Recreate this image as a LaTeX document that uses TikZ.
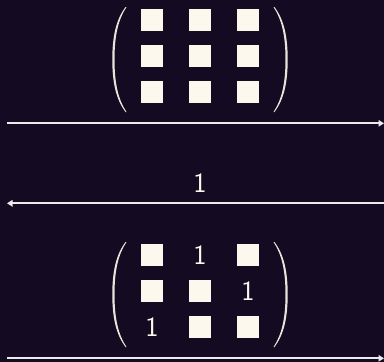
\documentclass[tikz,border=0pt]{standalone}
\usetikzlibrary{arrows.meta}

\definecolor{bgpurple}{HTML}{140A22}
\definecolor{cream}{HTML}{FCF8EE}
\definecolor{rulegray}{HTML}{ECEAEA}

\begin{document}
\begin{tikzpicture}[
  x=1pt,
  y=1pt,
  cell/.style={
    fill=cream,
    minimum size=22pt,
    inner sep=0pt,
    outer sep=0pt
  },
  entry/.style={
    text=cream,
    font=\sffamily\fontsize{28}{34}\selectfont,
    inner sep=0pt
  },
  arrowline/.style={
    draw=rulegray,
    line width=1.8pt,
    -{Triangle[length=5.5pt,width=6.5pt]}
  },
  parenfill/.style={
    fill=cream!92!black
  }
]

\fill[bgpurple] (0,0) rectangle (384,-362);
\useasboundingbox (0,0) rectangle (384,-362);

% one left paren, mirrored for the right one
\newcommand{\drawparen}{%
  \fill[parenfill] (14,0) .. controls (5,-12) and (0.8,-28) .. (0.8,-52.5)
    .. controls (0.8,-77) and (5,-93) .. (14,-105)
    -- (15,-105) .. controls (7,-93) and (3,-77) .. (3,-52.5)
    .. controls (3,-28) and (7,-12) .. (15,0) -- cycle;
}

\newcommand{\drawmatrixrow}[3]{%
  \foreach \val [count=\c from 1] in {#3} {
    \ifnum\val=0
      \node[cell] (#1-\c) at ({104+48*\c},#2) {};
    \else
      \node[entry] (#1-\c) at ({104+48*\c},#2) {1};
    \fi
  }
}

% upper matrix
\begin{scope}[shift={(111.5,-7)}]
  \drawparen
\end{scope}
\begin{scope}[shift={(288.5,-7)}, xscale=-1]
  \drawparen
\end{scope}
\drawmatrixrow{up-1}{-20}{0,0,0}
\drawmatrixrow{up-2}{-56}{0,0,0}
\drawmatrixrow{up-3}{-92}{0,0,0}

\coordinate (a1-start) at (7,-123.3);
\coordinate (a1-end) at (384,-123.3);
\draw[arrowline] (a1-start) -- (a1-end);

% middle arrow pointing back
\coordinate (a2-start) at (384,-203.3);
\coordinate (a2-end) at (7,-203.3);
\draw[arrowline] (a2-start) -- (a2-end);
\node[entry] (a2-label) at (200,-183.3) {1};

% lower matrix
\begin{scope}[shift={(111.5,-242)}]
  \drawparen
\end{scope}
\begin{scope}[shift={(288.5,-242)}, xscale=-1]
  \drawparen
\end{scope}
\drawmatrixrow{lo-1}{-255}{0,1,0}
\drawmatrixrow{lo-2}{-291}{0,0,1}
\drawmatrixrow{lo-3}{-327}{1,0,0}

\coordinate (a3-start) at (7,-358.3);
\coordinate (a3-end) at (384,-358.3);
\draw[arrowline] (a3-start) -- (a3-end);

\end{tikzpicture}
\end{document}
